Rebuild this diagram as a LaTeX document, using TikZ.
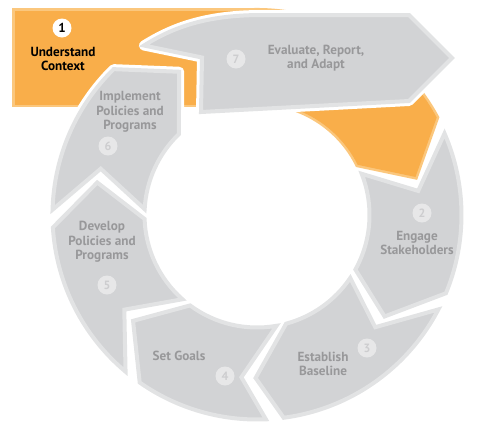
\documentclass[tikz,border=0pt]{standalone}
\usepackage{fontspec}
\setmainfont{PT Sans}
\definecolor{segfill}{RGB}{210,211,213}
\definecolor{segborder}{RGB}{226,227,228}
\definecolor{orfill}{RGB}{249,174,74}
\definecolor{orborder}{RGB}{251,199,125}
\definecolor{txtgrey}{RGB}{152,152,154}
\definecolor{numfill}{RGB}{231,231,232}
\definecolor{numtxt}{RGB}{205,205,207}
\tikzset{
  seg/.style={fill=segfill, draw=segborder, line width=4pt, line join=miter},
  halo/.style={preaction={draw=white, line width=10pt, line join=round}},
  lbl/.style={align=center, text=txtgrey, font=\bfseries\fontsize{13.2}{14.5}\selectfont, inner sep=0pt},
  num/.style={circle, fill=numfill, text=numtxt, minimum size=19pt, inner sep=0pt, font=\bfseries\fontsize{12}{12}\selectfont},
}
\newcommand\Ro{204.5}
\newcommand\Ri{112.5}
\newcommand\Rm{163}
% so si sv eo ei ev
\newcommand\segpath[6]{(#1:\Ro) arc[start angle=#1, end angle=#4, radius=\Ro] -- (#6:\Rm) -- (#5:\Ri) arc[start angle=#5, end angle=#2, radius=\Ri] -- (#3:\Rm) -- cycle}
\begin{document}
\begin{tikzpicture}[x=1pt, y=-1pt]
\useasboundingbox (0,0) rectangle (480,432);
% ring
\begin{scope}[shift={(257,215)}, y=1pt]
  % orange segment 1 (with rectangle)
  \draw[orborder, line width=5pt] (110:\Ro) arc[start angle=110, end angle=28.5, radius=\Ro] -- (13.5:\Rm) -- (26.5:\Ri) arc[start angle=26.5, end angle=110, radius=\Ri] -- cycle;
  \draw[orborder, line width=5pt] (-242.5,204.5) rectangle (0,110.5);
  \fill[orfill] (110:\Ro) arc[start angle=110, end angle=28.5, radius=\Ro] -- (13.5:\Rm) -- (26.5:\Ri) arc[start angle=26.5, end angle=110, radius=\Ri] -- cycle;
  \fill[orfill] (-242.5,204.5) rectangle (0,110.5);
  % segment 6
  \path[seg, halo] \segpath{178.5}{177}{163.5}{134.5}{134}{118.5};
  % segment 2
  \path[seg] \segpath{23.5}{21.5}{8.5}{-22.5}{-29}{-38.5};
  % segment 3
  \path[seg] \segpath{-27.5}{-34}{-43.5}{-82.5}{-75}{-90.5};
  % segment 4
  \path[seg] \segpath{-87.5}{-80}{-95.5}{-125}{-126.5}{-139.5};
  % segment 5
  \path[seg] \segpath{-130}{-131.5}{-144.5}{-176.5}{-178}{-191.5};
\end{scope}
% arrow 7
\path[seg, halo] (144,45.5) .. controls (172,28) and (205,15) .. (262,15) -- (409,15) -- (452,58) -- (409,101) -- (201,112) -- (202,57.5) -- cycle;
% labels
\node[circle, fill=white, text=black, minimum size=19pt, inner sep=0pt, font=\bfseries\fontsize{13}{13}\selectfont] (n1) at (62,28) {1};
\node[lbl, text=black] (t1) at (63,59) {Understand\\Context};
\node[num] (n7) at (236,59) {7};
\node[lbl] (t7) at (316,58) {Evaluate, Report,\\and Adapt};
\node[lbl] (t6) at (130,112) {Implement\\Policies and\\Programs};
\node[num] (n6) at (108,146) {6};
\node[lbl] (t5) at (102,242) {Develop\\Policies and\\Programs};
\node[num] (n5) at (107,285) {5};
\node[lbl] (t4) at (179,356) {Set Goals};
\node[num] (n4) at (225,376) {4};
\node[num] (n2) at (422,213) {2};
\node[lbl] (t2) at (417,243) {Engage\\Stakeholders};
\node[num] (n3) at (367,348) {3};
\node[lbl] (t3) at (323,364) {Establish\\Baseline};
\end{tikzpicture}
\end{document}
